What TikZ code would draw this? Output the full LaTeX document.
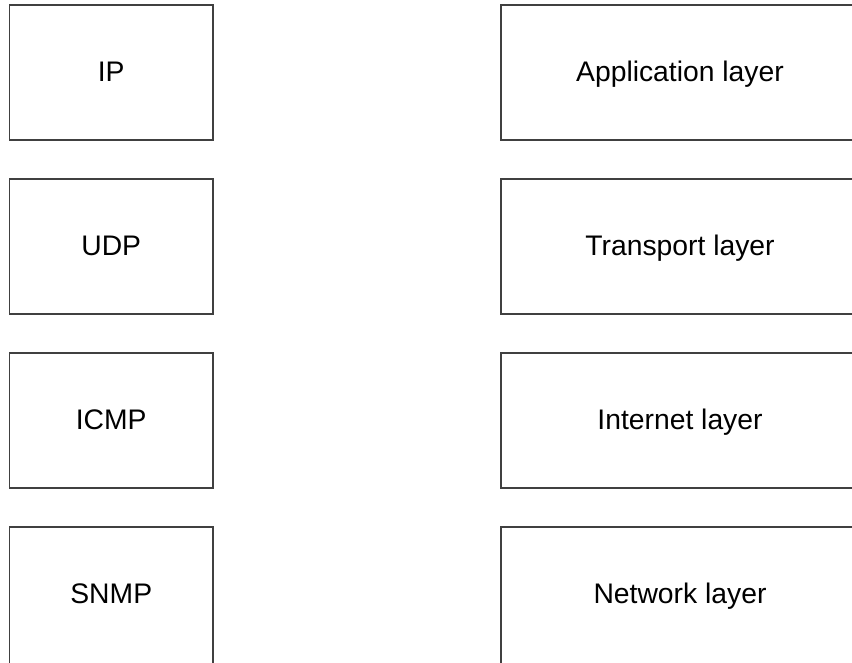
\documentclass[tikz,border=0pt]{standalone}
\usepackage{fontspec}
\setmainfont{Liberation Sans}
\begin{document}
\begin{tikzpicture}[x=1pt,y=1pt,
    protobox/.style={draw=black!75, line width=1.2pt, inner sep=0pt,
        minimum width=203.5pt, minimum height=135pt,
        text height=20pt, text depth=2pt,
        font=\fontsize{28.3}{32}\selectfont},
    layerbox/.style={protobox, minimum width=358pt},
    cutbox/.style={minimum height=145pt, yshift=-5pt}]
    \useasboundingbox (0,0) rectangle (852,662);
    \clip (0,0) rectangle (852,662);

    %Protocolos
    \node[protobox] (ip)   at (111.25,589.5) {IP};
    \node[protobox] (udp)  at (111.25,415.5) {UDP};
    \node[protobox] (icmp) at (111.25,241.5) {ICMP};
    \node[protobox, cutbox] (snmp) at (111.25,67.5) {\raisebox{5pt}{SNMP}};

    %Capas
    \node[layerbox] (app)   at (680,589.5) {Application layer};
    \node[layerbox] (trans) at (680,415.5) {Transport layer};
    \node[layerbox] (inet)  at (680,241.5) {Internet layer};
    \node[layerbox, cutbox] (net) at (680,67.5) {\raisebox{5pt}{Network layer}};
\end{tikzpicture}
\end{document}
